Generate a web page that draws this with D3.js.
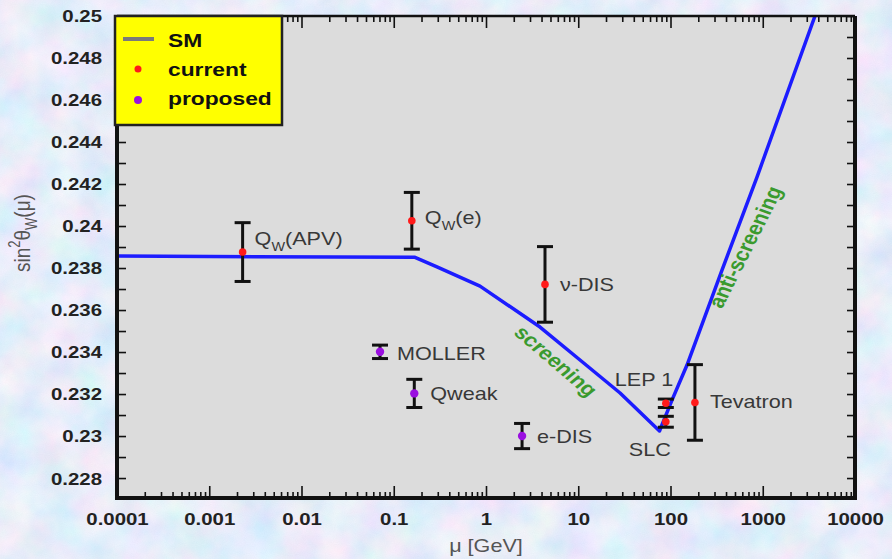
<!DOCTYPE html>
<html>
<head>
<meta charset="utf-8">
<script src="https://cdn.jsdelivr.net/npm/d3@7"></script>
<style>
  html, body { margin: 0; padding: 0; overflow: hidden; background: #c8d8f0; }
  svg { display: block; }
</style>
</head>
<body>
<svg id="chart" width="892" height="559"></svg>
<script>
// Standard Model running of the weak mixing angle (mu in GeV)
const smMu  = [0.0001, 0.17, 0.294, 0.861, 3.85, 10.45, 28.4, 76, 103.8, 151, 361.6, 866, 3684];
const smVal = [0.23857, 0.23851, 0.23805, 0.23714, 0.23519, 0.23362, 0.23205, 0.23024, 0.23171, 0.23338, 0.2379, 0.24233, 0.25];

// Existing measurements
const currentNames = ["QW(APV)", "QW(e)", "ν-DIS", "LEP 1", "SLC", "Tevatron"];
const currentMu    = [0.0023, 0.157, 4.36, 89, 89, 184];
const currentVal   = [0.23876, 0.24025, 0.23722, 0.23156, 0.23068, 0.2316];
const currentErr   = [0.0014, 0.00135, 0.0018, 0.0002, 0.00026, 0.0018];

// Planned measurements
const proposedNames = ["MOLLER", "Qweak", "e-DIS"];
const proposedMu    = [0.071, 0.167, 2.46];
const proposedVal   = [0.23401, 0.23203, 0.2300];
const proposedErr   = [0.00032, 0.00067, 0.0006];

// Axis ticks
const xTickValues = [0.0001, 0.001, 0.01, 0.1, 1, 10, 100, 1000, 10000];
const xTickLabels = ["0.0001", "0.001", "0.01", "0.1", "1", "10", "100", "1000", "10000"];
const yTickValues = [0.228, 0.23, 0.232, 0.234, 0.236, 0.238, 0.24, 0.242, 0.244, 0.246, 0.248, 0.25];
const yTickLabels = ["0.228", "0.23", "0.232", "0.234", "0.236", "0.238", "0.24", "0.242", "0.244", "0.246", "0.248", "0.25"];

const legendItems = ["SM", "current", "proposed"];

// ---- layout ----
const W = 892, H = 559;
const L = 117, R = 855, T = 16, B = 498;
const SX = 1.2; // horizontal text stretch
const labelOffset = {
  "QW(APV)": [12, -7], "QW(e)": [13, 3], "ν-DIS": [15, 7], "LEP 1": [-51, -17],
  "SLC": [-37, 34], "Tevatron": [15, 6], "MOLLER": [17, 8], "Qweak": [16, 7], "e-DIS": [15, 7]
};
const FONT = "Liberation Sans, Arial, sans-serif";

const svg = d3.select("#chart");
const defs = svg.append("defs");

// marbled backdrop
const f = defs.append("filter").attr("id", "marble")
  .attr("filterUnits", "userSpaceOnUse").attr("x", 0).attr("y", 0).attr("width", W).attr("height", H);
f.append("feTurbulence").attr("type", "fractalNoise").attr("baseFrequency", "0.025")
  .attr("numOctaves", 4).attr("seed", 11).attr("result", "n");
f.append("feColorMatrix").attr("in", "n").attr("type", "matrix")
  .attr("values", "0.45 0 0 0 0.57  0 0.25 0 0 0.72  0 0 0.14 0 0.88  0 0 0 0 1").attr("result", "c");
f.append("feTurbulence").attr("type", "fractalNoise").attr("baseFrequency", "0.9")
  .attr("numOctaves", 1).attr("seed", 2).attr("result", "g");
f.append("feColorMatrix").attr("in", "g").attr("type", "matrix")
  .attr("values", "0.33 0.33 0.33 0 0  0.33 0.33 0.33 0 0  0.33 0.33 0.33 0 0  0 0 0 0 1").attr("result", "gg");
f.append("feComposite").attr("in", "c").attr("in2", "gg").attr("operator", "arithmetic")
  .attr("k1", 0).attr("k2", 1).attr("k3", 0.1).attr("k4", -0.05);

svg.append("rect").attr("width", W).attr("height", H).attr("fill", "#c8d8f0").attr("filter", "url(#marble)");

defs.append("clipPath").attr("id", "plotClip")
  .append("rect").attr("x", L).attr("y", T).attr("width", R - L).attr("height", B - T);

const x = d3.scaleLog().domain([1e-4, 1e4]).range([L, R]);
const y = d3.scaleLinear().domain([0.22705, 0.25]).range([B, T]);

// plot area
svg.append("rect").attr("x", L).attr("y", T).attr("width", R - L).attr("height", B - T).attr("fill", "#dcdcdc");

// helper: horizontally stretched text
function stext(parent, px, py, opt = {}) {
  const t = parent.append("text")
    .attr("transform", `translate(${px},${py}) scale(${SX},1)` + (opt.rotate ? ` rotate(${opt.rotate})` : ""))
    .attr("font-family", FONT)
    .attr("font-size", opt.size || 18)
    .attr("font-weight", opt.weight || "normal")
    .attr("fill", opt.fill || "#383838")
    .attr("text-anchor", opt.anchor || "start");
  if (opt.dy) t.attr("dy", opt.dy);
  return t;
}
function labelText(t, name) {
  if (name.startsWith("QW")) {
    t.append("tspan").text("Q");
    t.append("tspan").attr("font-size", 12).attr("dy", 6).text("W");
    t.append("tspan").attr("dy", -6).text(name.slice(2));
  } else {
    t.text(name);
  }
}

// ---- ticks ----
const minor = [];
xTickValues.slice(0, -1).forEach(d => { for (let k = 2; k < 10; k++) minor.push(d * k); });
const yMinor = d3.range(0, 23).map(i => +(0.228 + i * 0.001).toFixed(3)).filter(v => v <= 0.25);

function styleAxis(g) {
  g.select(".domain").remove();
  g.selectAll(".tick line").attr("stroke", "#111").attr("stroke-width", 1.6);
}
svg.append("g").attr("transform", `translate(0,${B})`)
  .call(d3.axisBottom(x).tickValues(minor).tickSize(-6).tickFormat("")).call(styleAxis);
svg.append("g").attr("transform", `translate(0,${T})`)
  .call(d3.axisTop(x).tickValues(minor).tickSize(-6).tickFormat("")).call(styleAxis);
svg.append("g").attr("transform", `translate(0,${T})`)
  .call(d3.axisTop(x).tickValues(xTickValues).tickSize(-12).tickFormat("")).call(styleAxis);
const xAxis = svg.append("g").attr("transform", `translate(0,${B})`)
  .call(d3.axisBottom(x).tickValues(xTickValues).tickSize(-12)
    .tickFormat((d, i) => xTickLabels[i])).call(styleAxis);
xAxis.selectAll(".tick text")
  .attr("y", 27).attr("dy", 0)
  .attr("transform", `scale(${SX},1)`)
  .attr("font-family", FONT).attr("font-size", 17)
  .attr("font-weight", "bold").attr("fill", "#222");

svg.append("g").attr("transform", `translate(${R},0)`)
  .call(d3.axisRight(y).tickValues(yMinor).tickSize(-8).tickFormat("")).call(styleAxis);
svg.append("g").attr("transform", `translate(${L},0)`)
  .call(d3.axisLeft(y).tickValues(yMinor).tickSize(-9).tickFormat("")).call(styleAxis);
const yAxis = svg.append("g").attr("transform", `translate(${L},0)`)
  .call(d3.axisLeft(y).tickValues(yTickValues).tickSize(0)
    .tickFormat((d, i) => yTickLabels[i])).call(styleAxis);
yAxis.selectAll(".tick text")
  .attr("x", -15 / SX).attr("dy", "0.35em")
  .attr("transform", `scale(${SX},1)`)
  .attr("font-family", FONT).attr("font-size", 17)
  .attr("font-weight", "bold").attr("fill", "#222");

// ---- SM curve ----
const smData = smMu.map((m, i) => [m, smVal[i]]);
svg.append("path").datum(smData)
  .attr("clip-path", "url(#plotClip)")
  .attr("fill", "none").attr("stroke", "#1c1cff").attr("stroke-width", 3.5)
  .attr("stroke-linejoin", "round").attr("stroke-linecap", "round")
  .attr("d", d3.line().x(d => x(d[0])).y(d => y(d[1])));

// region annotations
svg.append("text")
  .attr("transform", `translate(556,361) scale(${SX},1) rotate(45.7)`)
  .attr("text-anchor", "middle").attr("dy", "0.35em")
  .attr("font-family", FONT).attr("font-size", 19)
  .attr("font-weight", "bold").attr("fill", "#3a9a2e").text("screening");
svg.append("text")
  .attr("transform", `translate(745,247) scale(${SX},1) rotate(-67)`)
  .attr("text-anchor", "middle").attr("dy", "0.35em")
  .attr("font-family", FONT).attr("font-size", 19)
  .attr("font-weight", "bold").attr("fill", "#3a9a2e").text("anti-screening");

// ---- measurements ----
function drawSet(names, mus, vals, errs, color, r) {
  const data = names.map((n, i) => ({ n, m: mus[i], v: vals[i], e: errs[i] }));
  const g = svg.append("g");
  const bars = g.selectAll("g.bar").data(data).join("g").attr("class", "bar");
  bars.append("line")
    .attr("x1", d => x(d.m)).attr("x2", d => x(d.m))
    .attr("y1", d => y(d.v - d.e)).attr("y2", d => y(d.v + d.e))
    .attr("stroke", "#111").attr("stroke-width", 3);
  [-1, 1].forEach(s => {
    bars.append("line")
      .attr("x1", d => x(d.m) - 8).attr("x2", d => x(d.m) + 8)
      .attr("y1", d => y(d.v + s * d.e)).attr("y2", d => y(d.v + s * d.e))
      .attr("stroke", "#111").attr("stroke-width", 3);
  });
  bars.append("circle").attr("cx", d => x(d.m)).attr("cy", d => y(d.v))
    .attr("r", r).attr("fill", color);
  data.forEach(d => {
    const o = labelOffset[d.n];
    labelText(stext(g, x(d.m) + o[0], y(d.v) + o[1], { size: 18 }), d.n);
  });
}
drawSet(currentNames, currentMu, currentVal, currentErr, "#ff1a1a", 3.8);
drawSet(proposedNames, proposedMu, proposedVal, proposedErr, "#9a10e0", 4.2);

// ---- frame ----
const frame = svg.append("g").attr("fill", "none").attr("stroke", "#111");
frame.append("line").attr("x1", L).attr("x2", R).attr("y1", T).attr("y2", T).attr("stroke-width", 2.5);
frame.append("line").attr("x1", R).attr("x2", R).attr("y1", T).attr("y2", B).attr("stroke-width", 4);
frame.append("line").attr("x1", L).attr("x2", L).attr("y1", T).attr("y2", B + 2).attr("stroke-width", 4);
frame.append("line").attr("x1", L - 2).attr("x2", R + 2).attr("y1", B).attr("y2", B).attr("stroke-width", 4);

// ---- axis titles ----
stext(svg, 486, 552, { size: 18, anchor: "middle", fill: "#555" }).text("μ [GeV]");
const yt = svg.append("text")
  .attr("transform", `translate(30,233) scale(${SX},1) rotate(-90)`)
  .attr("text-anchor", "middle")
  .attr("font-family", FONT).attr("font-size", 19).attr("fill", "#555");
yt.append("tspan").text("sin");
yt.append("tspan").attr("font-size", 13).attr("dy", -8).text("2");
yt.append("tspan").attr("dy", 8).text("θ");
yt.append("tspan").attr("font-size", 13).attr("dy", 6).text("W");
yt.append("tspan").attr("dy", -6).text("(μ)");

// ---- legend ----
const lg = svg.append("g");
lg.append("rect").attr("x", 115).attr("y", 16).attr("width", 167).attr("height", 109)
  .attr("fill", "#ffff00").attr("stroke", "#222").attr("stroke-width", 2.5);
lg.append("line").attr("x1", 123).attr("x2", 154).attr("y1", 39).attr("y2", 39)
  .attr("stroke", "#7a7a7a").attr("stroke-width", 4);
lg.append("circle").attr("cx", 138).attr("cy", 69).attr("r", 3.5).attr("fill", "#ff1a1a");
lg.append("circle").attr("cx", 138).attr("cy", 100).attr("r", 4).attr("fill", "#9a10e0");
const legendY = [47, 76, 105];
legendItems.forEach((s, i) => {
  stext(lg, 168, legendY[i], { size: 19, weight: "bold", fill: "#111" }).text(s);
});
</script>
</body>
</html>
